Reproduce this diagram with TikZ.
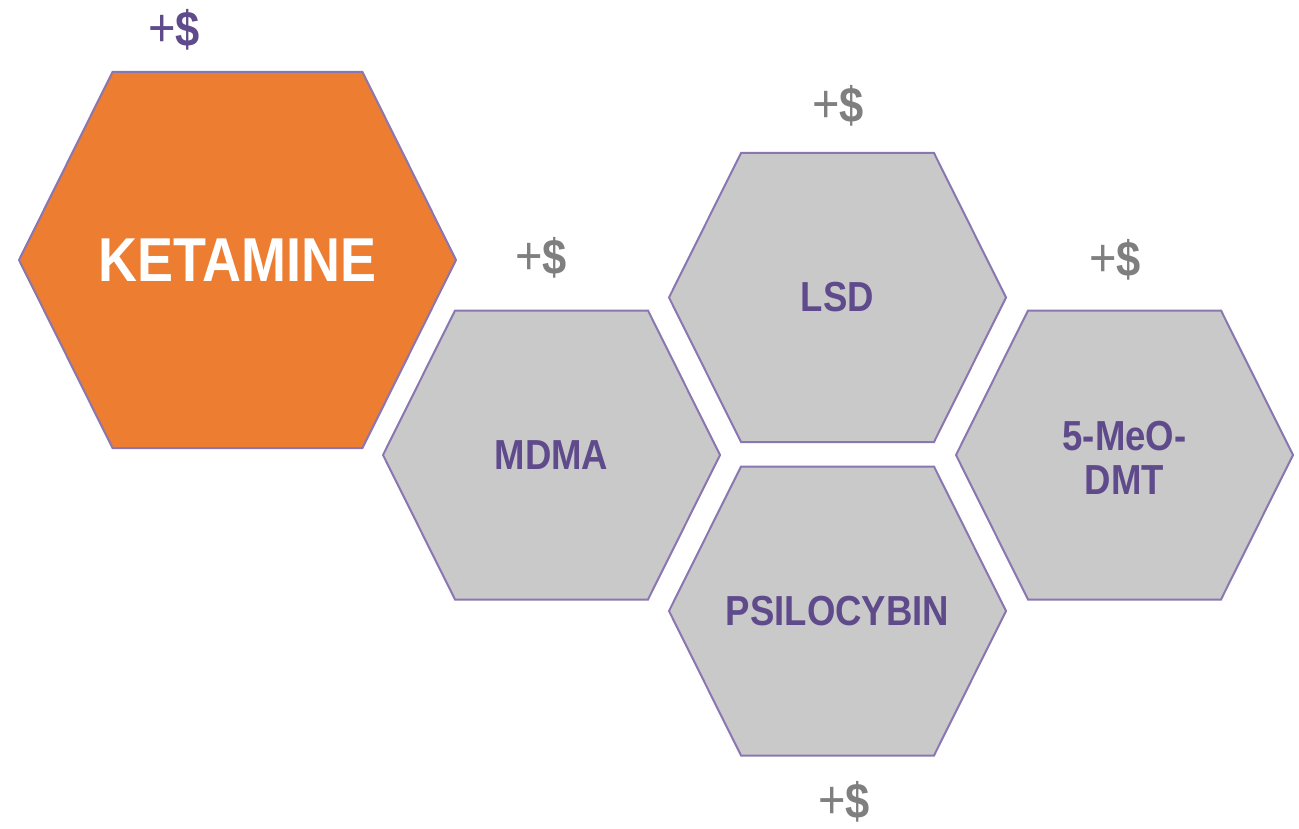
\documentclass[tikz,border=0pt]{standalone}
\usepackage{fontspec}
\setmainfont{Liberation Sans}[FakeStretch=0.87]
\definecolor{ketorange}{HTML}{ED7D31}
\definecolor{hexgray}{HTML}{C9C9C9}
\definecolor{hexedge}{HTML}{8A76B0}
\definecolor{drugpurple}{HTML}{5F4B8B}
\definecolor{pricegray}{HTML}{7F7F7F}
\tikzset{hex/.style = {draw=hexedge, line width=2pt, line join=miter, fill=hexgray}}
\tikzset{bighex/.style = {hex, fill=ketorange}}
\tikzset{drugname/.style = {text=drugpurple, font=\fontsize{42}{44}\selectfont\bfseries, align=center, inner sep=0pt}}
\tikzset{bigname/.style = {drugname, text=white, font=\fontsize{62}{66}\selectfont\bfseries}}
\tikzset{price/.style = {text=pricegray, inner sep=0pt}}
% center, half width, half top edge, half height
\newcommand{\hexagon}[5][hex]{\draw[#1, shift={(#2)}] (-#3,0) -- (-#4,-#5) -- (#4,-#5) -- (#3,0) -- (#4,#5) -- (-#4,#5) -- cycle;}
\newcommand{\plusdollar}{{\fontsize{54}{54}\selectfont+}{\fontsize{50}{50}\selectfont\bfseries\$}}

\begin{document}
\begin{tikzpicture}[x=1pt,y=-1pt]
            \useasboundingbox (0,0) rectangle (1299,829);

            % Centres
            \coordinate (ketamine) at (237.5,260);
            \coordinate (mdma) at (551.5,455);
            \coordinate (lsd) at (837.5,297.5);
            \coordinate (psilocybin) at (837.5,611);
            \coordinate (meodmt) at (1124.5,455);

            % Hexagons
            \hexagon[bighex]{ketamine}{218.5}{125}{188}
            \hexagon{mdma}{168.5}{96.5}{144.5}
            \hexagon{lsd}{168.5}{96.5}{144.5}
            \hexagon{psilocybin}{168.5}{96.5}{144.5}
            \hexagon{meodmt}{168.5}{96.5}{144.5}

            % Names
            \node[bigname] (ketamine-name) at (ketamine) {KETAMINE};
            \node[drugname] (mdma-name) at (mdma) {MDMA};
            \node[drugname] (lsd-name) at (lsd) {LSD};
            \node[drugname] (psilocybin-name) at (psilocybin) {PSILOCYBIN};
            \node[drugname] (meodmt-name) at ([yshift=-3pt]meodmt) {5-MeO-\\DMT};

            % Prices
            \node[price, text=drugpurple] (pketamine) at (174,30) {\plusdollar};
            \node[price] (pmdma) at (541,258) {\plusdollar};
            \node[price] (plsd) at (838,106) {\plusdollar};
            \node[price] (pmeodmt) at (1115,260) {\plusdollar};
            \node[price] (ppsilocybin) at (844,802) {\plusdollar};
\end{tikzpicture}
\end{document}
